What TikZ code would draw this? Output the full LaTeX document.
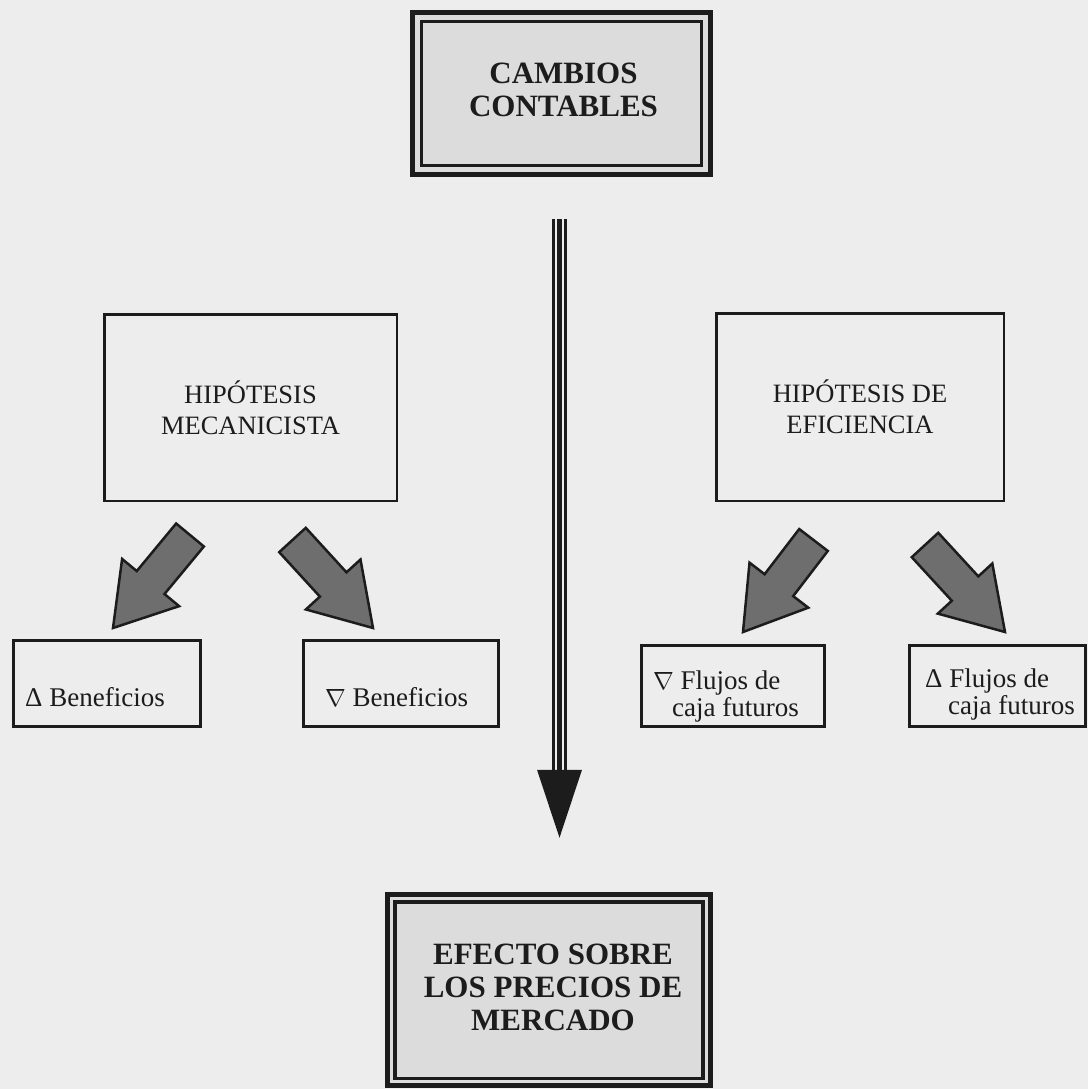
\documentclass[tikz,border=0pt]{standalone}
\usepackage{fontspec}
\setmainfont{Liberation Serif}
\usetikzlibrary{calc}

\definecolor{paper}{HTML}{EDEDED}
\definecolor{ink}{HTML}{1C1C1C}
\definecolor{titlefill}{HTML}{DCDCDC}
\definecolor{arrowfill}{HTML}{6E6E6E}

\tikzset{
  titlebox/.style={draw=ink, line width=5pt, fill=titlefill, inner sep=0pt},
  titletext/.style={text=ink, align=center, font=\fontsize{31}{33}\selectfont\bfseries, inner sep=0pt},
  innerframe/.style={draw=ink, line width=3.5pt},
  hypbox/.style={draw=ink, line width=2.5pt, text=ink, align=center,
    font=\fontsize{26.5}{31}\selectfont, inner sep=0pt},
  smallbox/.style={draw=ink, line width=3pt, inner sep=0pt},
  smalltext/.style={text=ink, align=left, font=\fontsize{27}{27}\selectfont,
    inner sep=0pt, anchor=base west},
  fatarrow/.style={draw=ink, line width=2.5pt, fill=arrowfill, line join=miter},
}

% broad block arrow from coordinate #1 (tail) to coordinate #2 (tip); #3 names its head base
\newcommand\drawfatarrow[3]{%
  \coordinate (#3) at ($(#2)!59pt!(#1)$);
  \draw[fatarrow]
    ($(#1)!18pt!90:(#2)$) -- ($(#3)!18pt!90:(#2)$) -- ($(#3)!37pt!90:(#2)$) --
    (#2) --
    ($(#3)!37pt!-90:(#2)$) -- ($(#3)!18pt!-90:(#2)$) -- ($(#1)!18pt!-90:(#2)$) -- cycle;
}

\begin{document}
\begin{tikzpicture}[x=1pt, y=-1pt]
  \useasboundingbox (0,0) rectangle (1088,1089);
  \fill[paper] (0,0) rectangle (1088,1089);

  % framed title boxes
  \node[titlebox, minimum width=298pt, minimum height=162pt] (cambios) at (561.5,93.5) {};
  \draw[innerframe] ($(cambios.north west)+(11.5,11.5)$) rectangle ($(cambios.south east)+(-11.5,-11.5)$);
  \node[titletext] (cambiost) at ($(cambios.center)+(2,-4)$) {CAMBIOS\\CONTABLES};

  \node[titlebox, minimum width=323pt, minimum height=191.5pt] (efecto) at (549,990) {};
  \draw[innerframe] ($(efecto.north west)+(10,10)$) rectangle ($(efecto.south east)+(-10,-10)$);
  \node[titletext] (efectot) at ($(efecto.center)+(4,-3)$) {EFECTO SOBRE\\LOS PRECIOS DE\\MERCADO};

  % hypothesis boxes
  \node[hypbox, minimum width=292.5pt, minimum height=186.5pt] (mec) at (250.5,407.5)
    {HIPÓTESIS\\MECANICISTA};
  \node[hypbox, minimum width=287.5pt, minimum height=187.5pt] (efi) at (860,407)
    {HIPÓTESIS DE\\EFICIENCIA};

  % consequence boxes
  \node[smallbox, minimum width=187pt, minimum height=86pt] (benup) at (107,683.5) {};
  \node[smallbox, minimum width=195pt, minimum height=86pt] (bendown) at (401,683.5) {};
  \node[smallbox, minimum width=183pt, minimum height=81pt] (flujdown) at (733,686) {};
  \node[smallbox, minimum width=176pt, minimum height=81pt] (flujup) at (997.5,686) {};

  \node[smalltext] (benupt) at (25,706) {Δ Beneficios};
  \node[smalltext] (bendownt) at (325,706) {$\nabla$ Beneficios};
  \node[smalltext] (flujdownt) at (653,716) {$\nabla$ Flujos de\\\hspace*{19pt}caja futuros};
  \node[smalltext] (flujupt) at (925,714) {Δ Flujos de\\\hspace*{23pt}caja futuros};

  % main vertical arrow
  \coordinate (vs) at ($(cambios.south)+(-2,42)$);
  \coordinate (ve) at ($(efecto.north)+(10.5,-54)$);
  \draw[ink, line width=3pt] ($(vs)+(-6,0)$) -- ($(ve)+(-6,-66)$);
  \draw[ink, line width=5.5pt] (vs) -- ($(ve)+(0,-66)$);
  \draw[ink, line width=3pt] ($(vs)+(5.5,0)$) -- ($(ve)+(5.5,-66)$);
  \fill[ink] ($(ve)+(-22.5,-68)$) -- ($(ve)+(22.5,-68)$) -- (ve) -- cycle;

  % block arrows from each hypothesis to its outcomes
  \coordinate (t1) at (190,535);   \coordinate (h1) at (113,628);
  \coordinate (t2) at (292.5,540); \coordinate (h2) at (373,628);
  \coordinate (t3) at (813.5,540); \coordinate (h3) at (743,632);
  \coordinate (t4) at (925,545);   \coordinate (h4) at (1005,632);
  \drawfatarrow{t1}{h1}{b1}
  \drawfatarrow{t2}{h2}{b2}
  \drawfatarrow{t3}{h3}{b3}
  \drawfatarrow{t4}{h4}{b4}
\end{tikzpicture}
\end{document}
